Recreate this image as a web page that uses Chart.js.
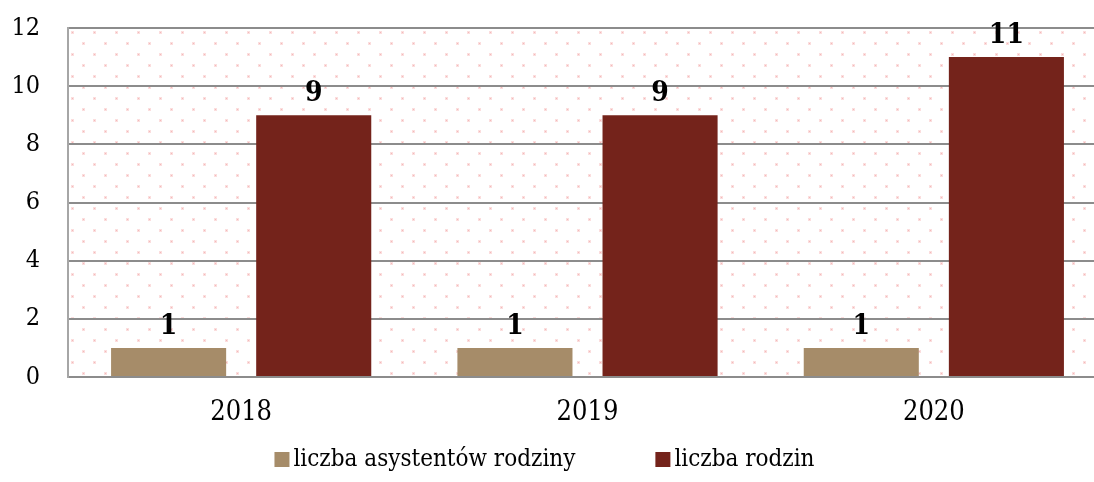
<!DOCTYPE html>
<html>
<head>
<meta charset="utf-8">
<script src="https://cdn.jsdelivr.net/npm/chart.js@4/dist/chart.umd.min.js"></script>
<style>
  html, body { margin: 0; padding: 0; background: #ffffff; overflow: hidden; }
  #wrap { position: relative; width: 1108px; height: 482px; }
</style>
</head>
<body>
<div id="wrap"><canvas id="c"></canvas></div>
<script>
const categories = ['2018', '2019', '2020'];
const seriesNames = ['liczba asystentów rodziny', 'liczba rodzin'];
const asystenci = [1, 1, 1];
const rodziny = [9, 9, 11];
const yTicks = [0, 2, 4, 6, 8, 10, 12];

const FONT = '"DejaVu Serif Condensed", "DejaVu Serif", serif';
const GRID = '#8c8c8c';

const bgPattern = {
  id: 'bgPattern',
  beforeDraw(chart) {
    const a = chart.chartArea, ctx = chart.ctx;
    const tile = document.createElement('canvas');
    tile.width = 22; tile.height = 22;
    const t = tile.getContext('2d');
    t.fillStyle = '#ffffff';
    t.fillRect(0, 0, 22, 22);
    t.fillStyle = 'rgb(251,222,222)';
    t.fillRect(3, 3, 3, 3);
    t.fillRect(14, 14, 3, 3);
    t.fillStyle = 'rgb(244,185,185)';
    t.fillRect(4, 4, 1, 1);
    t.fillRect(15, 15, 1, 1);
    ctx.save();
    const p = ctx.createPattern(tile, 'repeat');
    ctx.translate(a.left, a.top);
    ctx.fillStyle = p;
    ctx.fillRect(0, 0, a.right - a.left, a.bottom - a.top);
    ctx.restore();
  }
};

const valueLabels = {
  id: 'valueLabels',
  afterDatasetsDraw(chart) {
    const ctx = chart.ctx;
    ctx.save();
    ctx.font = 'bold 28px ' + FONT;
    ctx.fillStyle = '#000000';
    ctx.textAlign = 'center';
    ctx.textBaseline = 'alphabetic';
    chart.data.datasets.forEach((ds, i) => {
      const meta = chart.getDatasetMeta(i);
      meta.data.forEach((bar, j) => {
        ctx.fillText(String(ds.data[j]), bar.x, bar.y - 14);
      });
    });
    ctx.restore();
  }
};

const customLegend = {
  id: 'customLegend',
  afterDraw(chart) {
    const ctx = chart.ctx, a = chart.chartArea;
    ctx.save();
    ctx.font = '24px ' + FONT;
    ctx.textBaseline = 'middle';
    ctx.textAlign = 'left';
    const box = 15, gap = 4, itemGap = 80;
    const items = chart.data.datasets.map(ds => ({
      label: ds.label, color: ds.backgroundColor,
      w: box + gap + ctx.measureText(ds.label).width
    }));
    const total = items.reduce((s, it) => s + it.w, 0) + itemGap * (items.length - 1);
    let x = (a.left + a.right) / 2 - 43 - total / 2;
    const cy = 460;
    items.forEach(it => {
      ctx.fillStyle = it.color;
      ctx.fillRect(x, cy - 8, box, box);
      ctx.fillStyle = '#000000';
      ctx.fillText(it.label, x + box + gap, cy);
      x += it.w + itemGap;
    });
    ctx.restore();
  }
};

new Chart(document.getElementById('c'), {
  type: 'bar',
  data: {
    labels: categories,
    datasets: [
      { label: seriesNames[0], data: asystenci, backgroundColor: '#A68C69', borderWidth: 0 },
      { label: seriesNames[1], data: rodziny, backgroundColor: '#74231B', borderWidth: 0 }
    ]
  },
  options: {
    responsive: true,
    maintainAspectRatio: false,
    animation: false,
    layout: { padding: { top: 28, right: 1, bottom: 53, left: 0 } },
    categoryPercentage: 0.838,
    barPercentage: 0.793,
    plugins: {
      legend: { display: false },
      tooltip: { enabled: false },
      title: { display: false }
    },
    scales: {
      x: {
        grid: { display: false, drawTicks: false },
        border: { display: true, color: GRID, width: 2 },
        ticks: { color: '#000000', font: { family: FONT, size: 27 }, padding: 20 },
        afterFit(s) { s.height = 52; s.paddingLeft = 0; s.paddingRight = 0; }
      },
      y: {
        min: 0, max: 12,
        afterBuildTicks(s) { s.ticks = yTicks.map(v => ({ value: v })); },
        grid: { color: GRID, lineWidth: 2, drawTicks: false },
        border: { display: true, color: '#a6a6a6', width: 2 },
        ticks: { color: '#000000', font: { family: FONT, size: 25 }, padding: 28 },
        afterFit(s) { s.width = 68; s.paddingTop = 0; s.paddingBottom = 0; }
      }
    }
  },
  plugins: [bgPattern, valueLabels, customLegend]
});
</script>
</body>
</html>
